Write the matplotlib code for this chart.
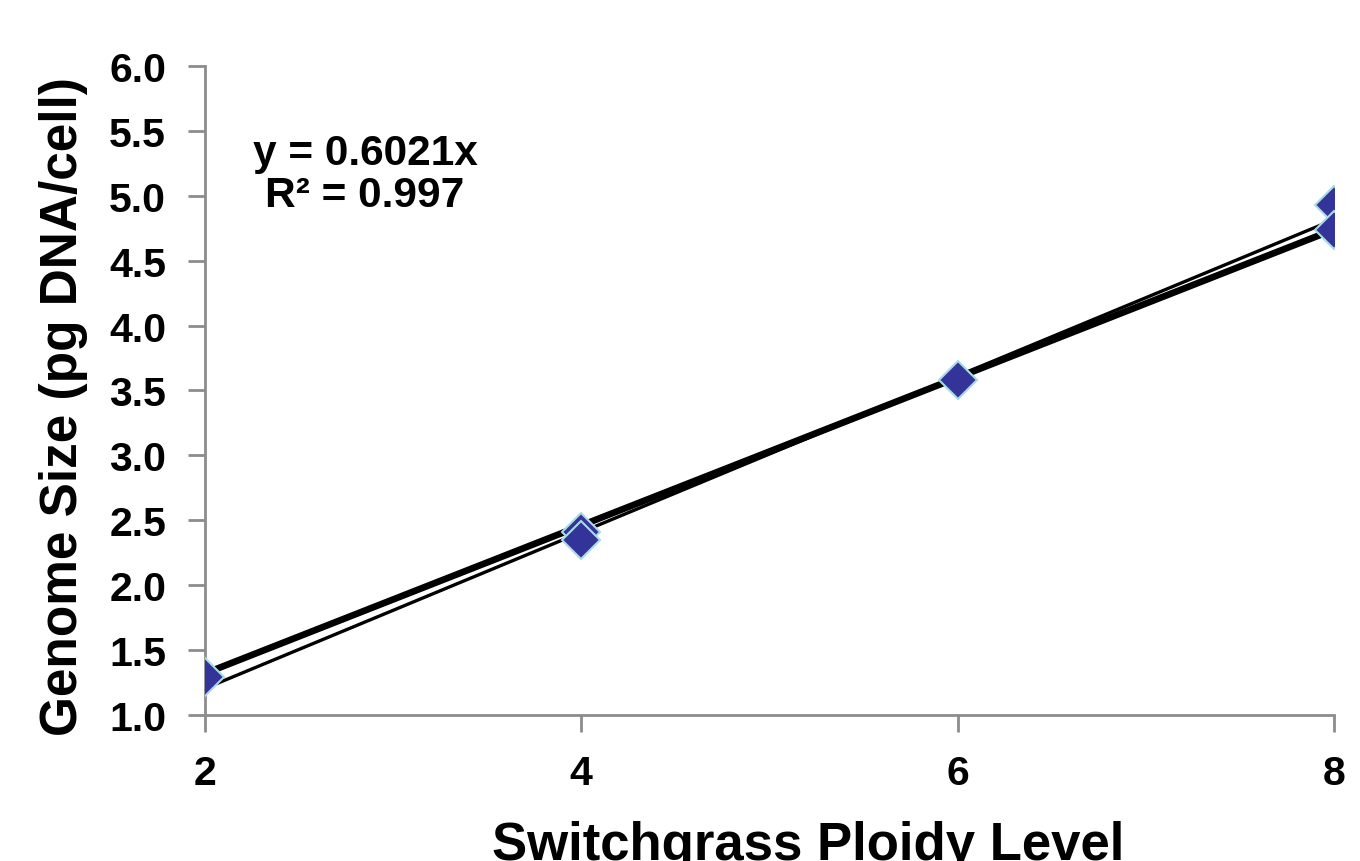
import numpy as np
import matplotlib
matplotlib.use("Agg")
import matplotlib.pyplot as plt

plt.rcParams['font.family'] = ['Liberation Sans', 'DejaVu Sans']
plt.rcParams['font.weight'] = 'bold'

# ploidy level vs genome size (pg DNA/cell)
ploidy = [2, 4, 4, 6, 8, 8]
genome = [1.29, 2.41, 2.35, 3.58, 4.93, 4.74]

# trendline through origin
slope = 0.6021
r2 = 0.997

# second (thick) line, end points
thick_x = [2, 8]
thick_y = [1.32, 4.74]

fig = plt.figure(figsize=[13.6, 8.62], dpi=100)
ax = fig.add_axes([0.1507, 0.1694, 0.8302, 0.7529])

ax.plot(thick_x, thick_y, color='black', linewidth=4.8, solid_capstyle='butt', zorder=2)
xt = np.array([2, 8])
ax.plot(xt, slope * xt, color='black', linewidth=2.4, solid_capstyle='butt', zorder=2)
ax.plot(ploidy, genome, linestyle='none', marker='D', markersize=19,
        markerfacecolor='#333399', markeredgecolor='#a9dbe3', markeredgewidth=1.5, zorder=3)

ax.set_xlim(2, 8)
ax.set_ylim(1.0, 6.0)
ax.set_xticks([2, 4, 6, 8])
ax.set_yticks(np.arange(1.0, 6.01, 0.5))
ax.set_yticklabels(['%.1f' % v for v in np.arange(1.0, 6.01, 0.5)])

for s in ['top', 'right']:
    ax.spines[s].set_visible(False)
for s in ['left', 'bottom']:
    ax.spines[s].set_color('#8c8c8c')
    ax.spines[s].set_linewidth(2)
    ax.spines[s].set_zorder(1)
ax.tick_params(axis='both', colors='#8c8c8c', width=2, length=12, direction='out',
               labelcolor='black', labelsize=29.5)
ax.tick_params(axis='x', pad=16)
ax.tick_params(axis='y', pad=16)
for lab in ax.get_xticklabels() + ax.get_yticklabels():
    lab.set_fontweight('bold')

ax.set_ylabel('Genome Size (pg DNA/cell)', fontsize=37, fontweight='bold')
ax.yaxis.set_label_coords(-0.104, 0.476)
fig.text(808 / 1360, 1 - 860 / 862, 'Switchgrass Ploidy Level', fontsize=38,
         fontweight='bold', ha='center', va='baseline')

ax.text(0.1417, 0.8336, 'y = 0.6021x\nR² = 0.997', transform=ax.transAxes,
        fontsize=30.5, fontweight='bold', ha='center', va='center', linespacing=1.08)

fig.savefig('out.png', dpi=100)
